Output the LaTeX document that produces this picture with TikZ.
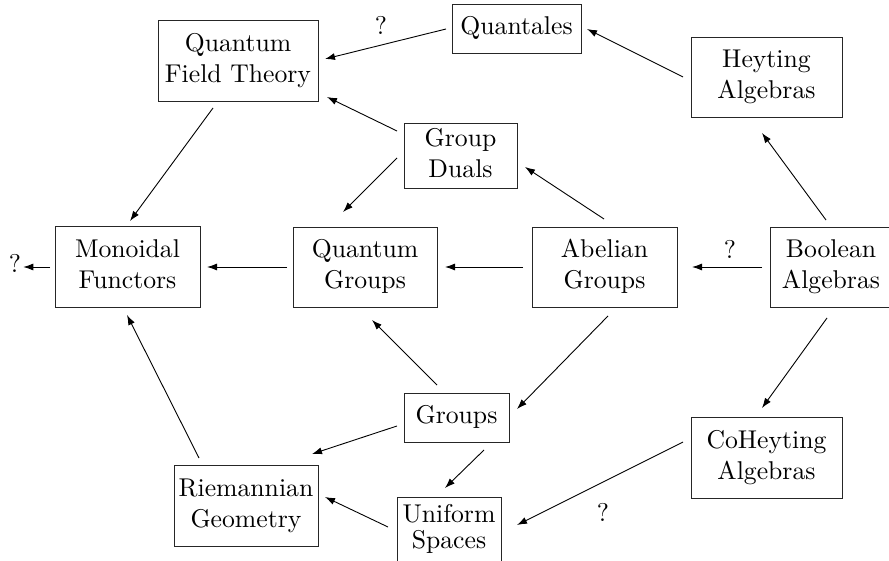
\documentclass[tikz,border=0pt]{standalone}
\usepackage{graphicx}
\usetikzlibrary{arrows.meta,calc}
\newcommand\lbl[1]{\scalebox{2.57}{\begin{tabular}{@{}c@{}}#1\end{tabular}}}
\newcommand\lbltight[1]{\scalebox{2.57}{\renewcommand\arraystretch{0.78}\begin{tabular}{@{}c@{}}#1\end{tabular}}}
\begin{document}
\begin{tikzpicture}[x=1pt,y=-1pt,
  box/.style={draw=black!85, line width=0.9pt, inner sep=0pt, align=center},
  conn/.style={line width=0.9pt, -{Latex[length=10pt,width=7pt]}},
  qmark/.style={inner sep=0pt}]
\useasboundingbox (0,0) rectangle (889,561);
\clip (0,0) rectangle (889,561);
\node[box, minimum width=160pt, minimum height=81pt] (qft) at (238,60.5) {\lbl{Quantum\\Field Theory}};
\node[box, minimum width=129pt, minimum height=49pt] (quantales) at (516.5,28.5) {\lbl{Quantales}};
\node[box, minimum width=151pt, minimum height=80pt] (heyting) at (766.5,77) {\lbl{Heyting\\Algebras}};
\node[box, minimum width=113pt, minimum height=65pt] (duals) at (460.5,155.5) {\lbl{Group\\Duals}};
\node[box, minimum width=145pt, minimum height=81pt] (monoidal) at (127.5,266.5) {\lbl{Monoidal\\Functors}};
\node[box, minimum width=144pt, minimum height=80pt] (qgroups) at (365,267) {\lbl{Quantum\\Groups}};
\node[box, minimum width=145pt, minimum height=80pt] (abelian) at (604.5,267) {\lbl{Abelian\\Groups}};
\node[box, minimum width=122pt, minimum height=80pt] (boolean) at (831,267) {\lbl{Boolean\\Algebras}};
\node[box, minimum width=105pt, minimum height=49pt] (groups) at (456.5,417.5) {\lbl{Groups}};
\node[box, minimum width=104pt, minimum height=66pt] (uniform) at (449,530) {\lbltight{Uniform\\Spaces}};
\node[box, minimum width=144pt, minimum height=81pt] (riemann) at (246,505.5) {\lbl{Riemannian\\Geometry}};
\node[box, minimum width=151pt, minimum height=81pt] (coheyting) at (766.5,457.5) {\lbl{CoHeyting\\Algebras}};
\node[qmark] (q1) at (381,28) {\lbl{?}};
\node[qmark] (q2) at (15,266) {\lbl{?}};
\node[qmark] (q3) at (730,252) {\lbl{?}};
\node[qmark] (q4) at (603,515) {\lbl{?}};
\draw[conn] ([shift={(-70.5,0.5)}]quantales.center) -- ([shift={(87,-1.5)}]qft.center);
\draw[conn] ([shift={(-83.5,0)}]heyting.center) -- ([shift={(70.5,0.5)}]quantales.center);
\draw[conn] ([shift={(-63.5,-24.5)}]duals.center) -- ([shift={(89,36.5)}]qft.center);
\draw[conn] ([shift={(-25,47.5)}]qft.center) -- ([shift={(2.5,-45.5)}]monoidal.center);
\draw[conn] ([shift={(-63.5,2.5)}]duals.center) -- ([shift={(-22,-55)}]qgroups.center);
\draw[conn] ([shift={(-0.5,-48)}]abelian.center) -- ([shift={(64.5,11.5)}]duals.center);
\draw[conn] ([shift={(-5,-47)}]boolean.center) -- ([shift={(-4.5,56)}]heyting.center);
\draw[conn] ([shift={(-69,0)}]boolean.center) -- ([shift={(87.5,0)}]abelian.center);
\draw[conn] ([shift={(-81.5,0)}]abelian.center) -- ([shift={(80,0)}]qgroups.center);
\draw[conn] ([shift={(-78,0)}]qgroups.center) -- ([shift={(79.5,0.5)}]monoidal.center);
\draw[conn] ([shift={(-77.5,0.5)}]monoidal.center) -- ($(q2.east |- monoidal.center)+(2,0.5)$);
\draw[conn] ([shift={(3.5,49)}]abelian.center) -- ([shift={(60.5,-8.5)}]groups.center);
\draw[conn] ([shift={(-19.5,-32.5)}]groups.center) -- ([shift={(7,53)}]qgroups.center);
\draw[conn] ([shift={(-59.5,8.5)}]groups.center) -- ([shift={(66,-51.5)}]riemann.center);
\draw[conn] ([shift={(27.5,32.5)}]groups.center) -- ([shift={(-4,-42)}]uniform.center);
\draw[conn] ([shift={(-61,-3)}]uniform.center) -- ([shift={(79,-8.5)}]riemann.center);
\draw[conn] ([shift={(-47,-47.5)}]riemann.center) -- ([shift={(-0.5,48.5)}]monoidal.center);
\draw[conn] ([shift={(-4,51)}]boolean.center) -- ([shift={(-4.5,-49.5)}]coheyting.center);
\draw[conn] ([shift={(-83.5,-15.5)}]coheyting.center) -- ([shift={(68,-5)}]uniform.center);
\end{tikzpicture}
\end{document}
